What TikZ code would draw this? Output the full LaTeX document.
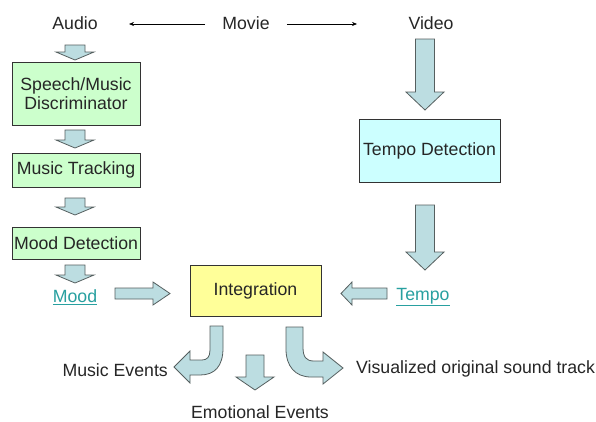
\documentclass[tikz,border=0pt]{standalone}
\usepackage{fontspec}
\setmainfont{Liberation Sans}
\usetikzlibrary{arrows.meta}
\definecolor{arrfill}{RGB}{188,221,225}
\definecolor{arrdraw}{RGB}{85,95,95}
\definecolor{boxgreen}{RGB}{204,255,204}
\definecolor{boxcyan}{RGB}{204,255,255}
\definecolor{boxyellow}{RGB}{255,255,153}
\definecolor{linkteal}{RGB}{40,160,160}
\begin{document}
\begin{tikzpicture}[x=1pt,y=-1pt,
  every node/.style={font=\fontsize{17.7}{19.5}\selectfont, text=black!85, inner sep=0pt},
  procbox/.style={draw=black!80, line width=0.8pt, align=center},
  blockarrow/.style={fill=arrfill, draw=arrdraw, line width=0.8pt, line join=miter},
  linktext/.style={text=linkteal},
  thin arrow/.style={-{Stealth[length=5pt,width=4pt]}, line width=0.6pt, black}
]
\useasboundingbox (0,0) rectangle (596,421);
\fill[white] (0,0) rectangle (596,421);

% top labels
\node (audio) at (75,23) {Audio};
\node (movie) at (246,23) {Movie};
\node (video) at (431,23) {Video};
\draw[thin arrow] (movie.west) ++(-17,1) coordinate (ml) -- (129,24) coordinate (mla);
\draw[thin arrow] (movie.east) ++(17,1) coordinate (mr) -- (357,24) coordinate (mra);

% left column boxes
\node[procbox, fill=boxgreen, minimum width=128, minimum height=63] (spm) at (76,93.5) {Speech/Music\\[-1pt]Discriminator};
\node[procbox, fill=boxgreen, minimum width=128, minimum height=34] (mt) at (76,170) {Music Tracking};
\node[procbox, fill=boxgreen, minimum width=128, minimum height=32] (md) at (76,243) {Mood Detection};
\node[linktext] (mood) at (75,297) {\underline{Mood}};

% small down arrows (left column)
\newcommand{\smalldown}[3]{% cx, top, tip
  \draw[blockarrow] (#1-10,#2) -- (#1+10,#2) -- (#1+10,#3-8) -- (#1+19,#3-8) -- (#1,#3) -- (#1-19,#3-8) -- (#1-10,#3-8) -- cycle;}
\smalldown{75}{45}{60}
\smalldown{75}{130}{148}
\smalldown{75}{198}{215}
\smalldown{75}{265}{283}

% right column
\node[procbox, fill=boxcyan, minimum width=141, minimum height=63] (td) at (429.5,150.5) {Tempo Detection};
\node[linktext] (tempo) at (423,297) {\underline{Tempo}};

\newcommand{\bigdown}[3]{% cx, top, tip
  \draw[blockarrow] (#1-9.5,#2) -- (#1+9.5,#2) -- (#1+9.5,#3-18) -- (#1+19,#3-18) -- (#1,#3) -- (#1-19,#3-18) -- (#1-9.5,#3-18) -- cycle;}
\bigdown{425}{39}{110}
\bigdown{425}{205}{270}

% integration
\node[procbox, fill=boxyellow, minimum width=131, minimum height=51] (integ) at (255.5,290.5) {Integration};

% Mood -> Integration arrow
\draw[blockarrow] (115,288) -- (153,288) -- (153,282) -- (170,293.5) -- (153,305) -- (153,299) -- (115,299) -- cycle;
% Tempo -> Integration arrow
\draw[blockarrow] (387,288) -- (352,288) -- (352,282) -- (341,293.5) -- (352,305) -- (352,299) -- (387,299) -- cycle;

% bottom arrows
% left curved
\draw[blockarrow] (210,326) -- (223,326) -- (223,348) .. controls (223,366) and (215,375) .. (200,375) -- (190,375) -- (190,383) -- (174,367) -- (190,351) -- (190,360) -- (202,360) .. controls (207,360) and (210,357) .. (210,350) -- cycle;
% middle down
\draw[blockarrow] (246,355) -- (264,355) -- (264,377) -- (274,377) -- (255,390) -- (236,377) -- (246,377) -- cycle;
% right curved
\draw[blockarrow] (286,327) -- (303,327) -- (303,347) .. controls (303,357) and (306,361) .. (314,361) -- (323,361) -- (323,352) -- (343,368) -- (323,384) -- (323,377) -- (311,377) .. controls (295,377) and (286,366) .. (286,349) -- cycle;

\node[anchor=east] (mev) at (168,370) {Music Events};
\node (eev) at (260,412) {Emotional Events};
\node[anchor=west] (vis) at (356,369) {Visualized original sound track};
\end{tikzpicture}
\end{document}
